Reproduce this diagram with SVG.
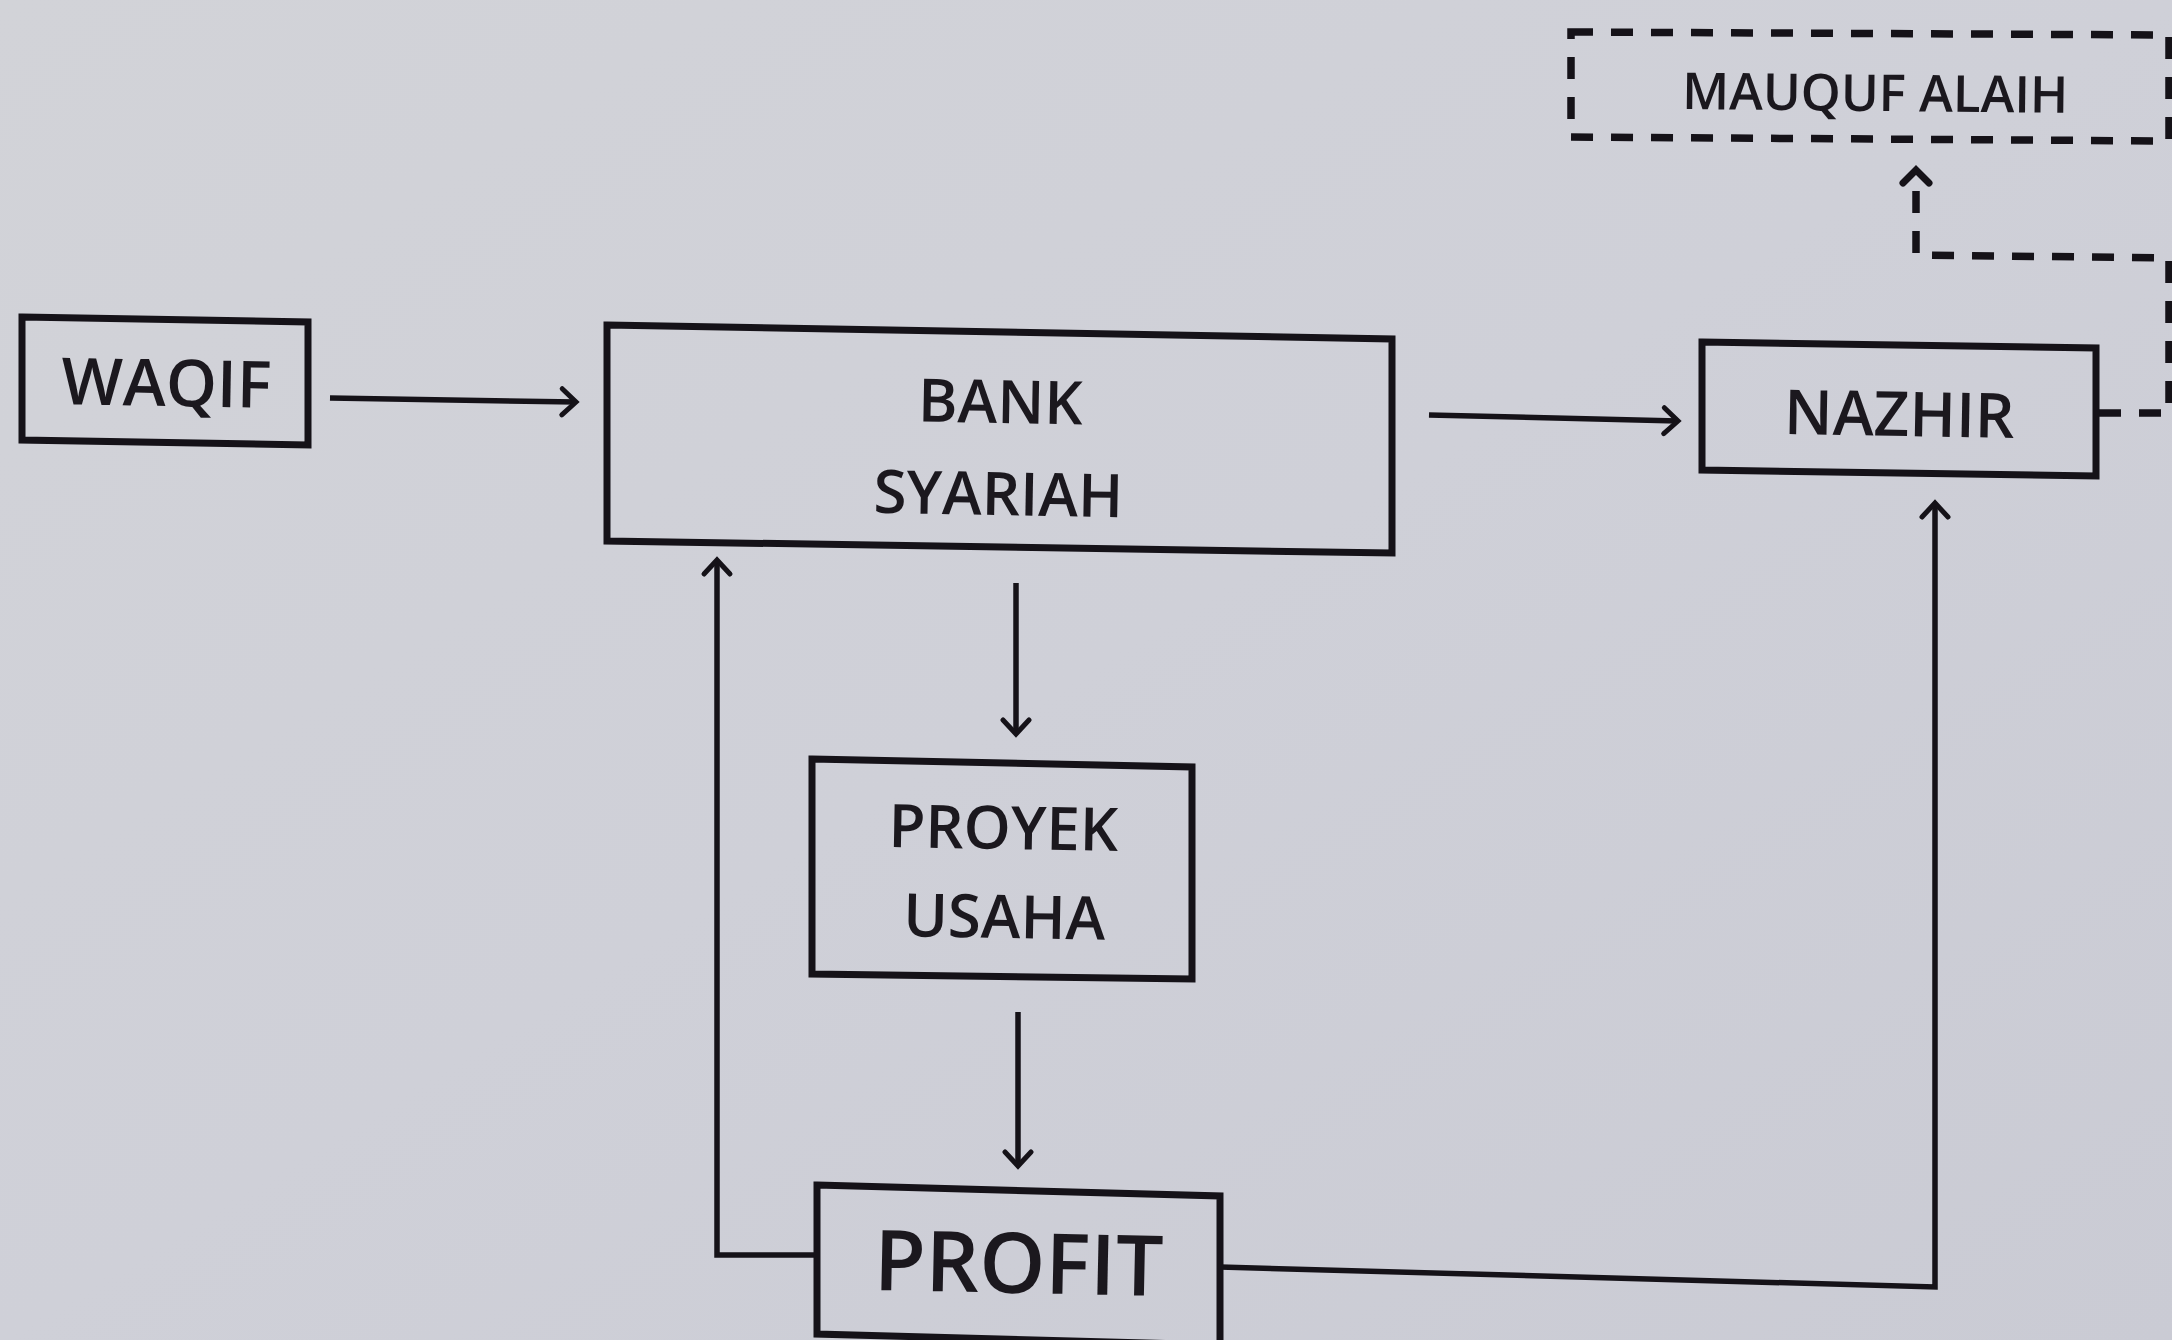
<svg xmlns="http://www.w3.org/2000/svg" width="2172" height="1340" viewBox="0 0 2172 1340">
  <defs>
    <style>
      .box { fill: none; stroke: #151218; stroke-width: 7; stroke-linejoin: miter; }
      .dbox { fill: none; stroke: #151218; stroke-width: 7.5; stroke-dasharray: 22 18; }
      .flow { fill: none; stroke: #151218; stroke-width: 5.5; }
      .dflow { fill: none; stroke: #151218; stroke-width: 7.5; stroke-dasharray: 22 18; }
      .lbl { font-family: "Open Sans", "Liberation Sans", sans-serif; font-weight: 600; fill: #1b181e; text-anchor: middle; }
    </style>
    <marker id="head" markerUnits="userSpaceOnUse" markerWidth="40" markerHeight="40" viewBox="-20 -20 40 40" refX="0" refY="0" orient="auto">
      <path d="M-14,-13 L0,0 L-14,13" fill="none" stroke="#151218" stroke-width="5" stroke-linecap="round" stroke-linejoin="miter"/>
    </marker>
    <marker id="dhead" markerUnits="userSpaceOnUse" markerWidth="40" markerHeight="40" viewBox="-20 -20 40 40" refX="0" refY="0" orient="auto">
      <path d="M-13,-13 L0,0 L-13,13" fill="none" stroke="#151218" stroke-width="7" stroke-linecap="round"/>
    </marker>
    <linearGradient id="paper" x1="0" y1="0" x2="1" y2="1">
      <stop offset="0" stop-color="#d2d3d8"/>
      <stop offset="0.5" stop-color="#cfd0d8"/>
      <stop offset="1" stop-color="#cacbd4"/>
    </linearGradient>
  </defs>

  <!-- page background -->
  <rect x="0" y="0" width="2172" height="1340" fill="url(#paper)"/>

  <!-- connectors -->
  <g id="connectors">
    <path class="flow" d="M330,398 L576,402" marker-end="url(#head)"/>
    <path class="flow" d="M1429,415 L1678,421" marker-end="url(#head)"/>
    <path class="flow" d="M1016,583 L1016,734" marker-end="url(#head)"/>
    <path class="flow" d="M1018,1012 L1018,1166" marker-end="url(#head)"/>
    <path class="flow" d="M817,1255 L717,1255 L717,560" marker-end="url(#head)"/>
    <path class="flow" d="M1220,1267 L1935,1287 L1935,503" marker-end="url(#head)"/>
    <path class="dflow" d="M2099,413 L2169,413 L2169,258 L1916,255 L1916,170" marker-end="url(#dhead)"/>
  </g>

  <!-- nodes -->
  <g id="waqif">
    <path class="box" d="M22,317 L308,322 L308,445 L22,440 Z"/>
    <text class="lbl" x="166" y="406" font-size="65" transform="rotate(1 166 406)">WAQIF</text>
  </g>

  <g id="bank-syariah">
    <path class="box" d="M607,325 L1392,339 L1392,553 L607,541 Z"/>
    <text class="lbl" x="1000" y="423" font-size="60" transform="rotate(1 1000 423)">BANK</text>
    <text class="lbl" x="998" y="515" font-size="60" transform="rotate(1 998 515)">SYARIAH</text>
  </g>

  <g id="nazhir">
    <path class="box" d="M1702,342 L2096,348 L2096,476 L1702,470 Z"/>
    <text class="lbl" x="1899" y="436" font-size="62" transform="rotate(1 1899 436)">NAZHIR</text>
  </g>

  <g id="mauquf-alaih">
    <path class="dbox" d="M1571,32 L2169,35 L2169,141 L1571,137 Z"/>
    <text class="lbl" x="1875" y="111" font-size="51" transform="rotate(0.6 1875 111)">MAUQUF ALAIH</text>
  </g>

  <g id="proyek-usaha">
    <path class="box" d="M812,759 L1192,767 L1192,979 L812,974 Z"/>
    <text class="lbl" x="1003" y="849" font-size="60" transform="rotate(1 1003 849)">PROYEK</text>
    <text class="lbl" x="1004" y="938" font-size="60" transform="rotate(1 1004 938)">USAHA</text>
  </g>

  <g id="profit">
    <path class="box" d="M817,1185 L1220,1196 L1220,1345 L817,1334 Z" stroke-width="7.5"/>
    <text class="lbl" x="1018" y="1293" font-size="84" transform="rotate(1.2 1018 1293)">PROFIT</text>
  </g>
</svg>
